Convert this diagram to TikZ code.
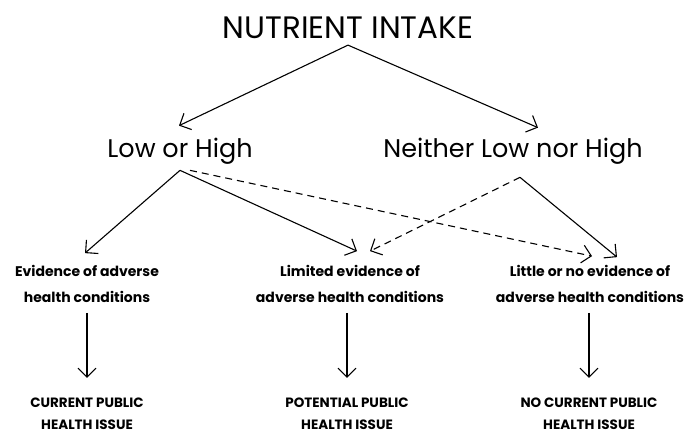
\documentclass[tikz,border=0pt]{standalone}
\usepackage{fontspec}
\setmainfont{Poppins}
\usetikzlibrary{arrows.meta,calc}
\begin{document}
\begin{tikzpicture}[x=1pt,y=-1pt,
  conn/.style={line width=1.1pt,-{Straight Barb[length=9pt,width=18pt,line width=1.1pt]}},
  dconn/.style={conn,dash pattern=on 7pt off 5pt},
  lvlone/.style={font=\fontsize{31}{34}\selectfont,inner sep=0pt},
  lvltwo/.style={font=\fontsize{25.5}{28}\selectfont,inner sep=0pt},
  lvlthree/.style={font=\fontsize{14}{26}\selectfont\bfseries,align=center,inner sep=2pt},
  lvlfour/.style={font=\fontsize{13.5}{22}\selectfont\bfseries,align=center,inner sep=2pt}]
\useasboundingbox (0,0) rectangle (686,435);
\node[lvlone] (nut) at (348,28) {NUTRIENT INTAKE};
\node[lvltwo] (low) at (180,151) {Low or High};
\node[lvltwo] (nei) at (513,151) {Neither Low nor High};
\node[lvlthree] (ev) at (87,284) {Evidence of adverse\\health conditions};
\node[lvlthree] (lim) at (350,284) {Limited evidence of\\adverse health conditions};
\node[lvlthree] (lit) at (590,284) {Little or no evidence of\\adverse health conditions};
\node[lvlfour] (cur) at (87,414) {CURRENT PUBLIC\\HEALTH ISSUE};
\node[lvlfour] (pot) at (347,414) {POTENTIAL PUBLIC\\HEALTH ISSUE};
\node[lvlfour] (nocur) at (589,414) {NO CURRENT PUBLIC\\HEALTH ISSUE};
% level 1 -> 2
\draw[conn] ($(nut.south)+(0,6)$) -- ($(low.north)+(-1,-12)$);
\draw[conn] ($(nut.south)+(0,6)$) -- ($(nei.north)+(25,-10)$);
% level 2 -> 3
\draw[conn] ($(low.south)+(0,6)$) -- ($(ev.north)+(-2,-10)$);
\draw[conn] ($(low.south)+(0,6)$) -- ($(lim.north)+(7,-12)$);
\draw[dconn] ($(low.south)+(10,6)$) -- ($(lit.north)+(2,-7)$);
\draw[dconn] ($(nei.south)+(7,13)$) -- ($(lim.north)+(20,-12)$);
\draw[conn] ($(nei.south)+(7,13)$) -- ($(lit.north)+(27,-6)$);
% level 3 -> 4
\draw[conn] ($(ev.south -| cur.north)+(0,8)$) -- ($(cur.north)+(0,-18)$);
\draw[conn] ($(lim.south -| pot.north)+(0,8)$) -- ($(pot.north)+(0,-18)$);
\draw[conn] ($(lit.south -| nocur.north)+(0,8)$) -- ($(nocur.north)+(0,-18)$);
\end{tikzpicture}
\end{document}
